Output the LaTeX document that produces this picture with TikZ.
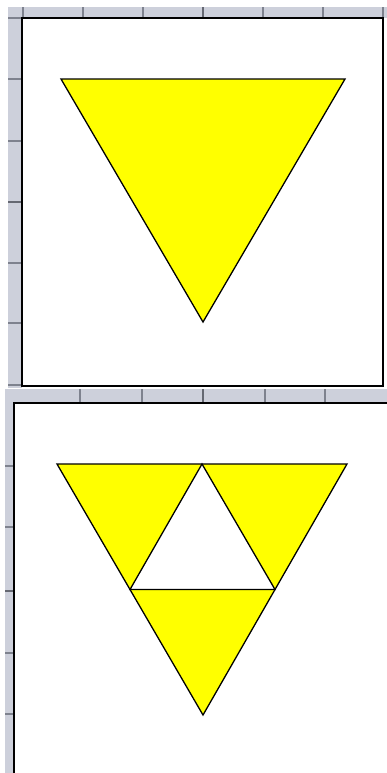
\documentclass[tikz,border=0pt]{standalone}
\usetikzlibrary{calc}
\definecolor{rulGrey}{HTML}{CDD0DB}
\definecolor{rulTick}{HTML}{7E828E}
\definecolor{triYellow}{HTML}{FFFF00}
\tikzset{
  ruler/.style={fill=rulGrey, draw=none},
  rtick/.style={draw=rulTick, line width=0.9pt},
  midtick/.style={draw=rulTick!80!black, line width=1.7pt},
  panel/.style={draw=black, line width=1.7pt},
  tri/.style={draw=black, fill=triYellow, line width=1.1pt, line join=miter},
  hole/.style={draw=black, fill=white, line width=1.1pt},
}
\begin{document}
\begin{tikzpicture}[x=0.03cm,y=-0.03cm]
  \useasboundingbox[fill=white] (0,0) rectangle (387,773);
  % upper window: rulers
  \fill[ruler] (8,7) rectangle (387,18);
  \fill[ruler] (8,7) rectangle (22,388);
  \foreach \x in {23,83,143,263,323,383}{
    \draw[rtick] (\x,7) -- (\x,18);}
  \draw[midtick] (203,7) -- (203,18);
  \foreach \y in {18,79,141,263,323,385}{
    \draw[rtick] (8,\y) -- (22,\y);}
  \draw[midtick] (8,202) -- (22,202);
  \draw[panel] (22,18) rectangle (383,386);
  % upper triangle
  \coordinate (ta) at (61,79);
  \coordinate (tb) at (345,79);
  \coordinate (tc) at (203,322);
  \draw[tri] (ta) -- (tb) -- (tc) -- cycle;
  % lower window: rulers
  \fill[ruler] (5,389) rectangle (387,403);
  \fill[ruler] (5,389) rectangle (14,773);
  \foreach \x in {80,142,265,325}{
    \draw[rtick] (\x,389) -- (\x,403);}
  \draw[midtick] (203,389) -- (203,403);
  \foreach \y in {466,527,653,714}{
    \draw[rtick] (5,\y) -- (14,\y);}
  \draw[midtick] (5,591) -- (14,591);
  \draw[panel] (387,403) -- (14,403) -- (14,773);
  % lower triangle split in four
  \coordinate (la) at (57,464);
  \coordinate (lb) at (347,464);
  \coordinate (lc) at (203,715);
  \coordinate (mab) at ($(la)!0.5!(lb)$);
  \coordinate (mbc) at ($(lb)!0.5!(lc)$);
  \coordinate (mca) at ($(lc)!0.5!(la)$);
  \draw[tri] (la) -- (lb) -- (lc) -- cycle;
  \draw[hole] (mab) -- (mbc) -- (mca) -- cycle;
\end{tikzpicture}
\end{document}
